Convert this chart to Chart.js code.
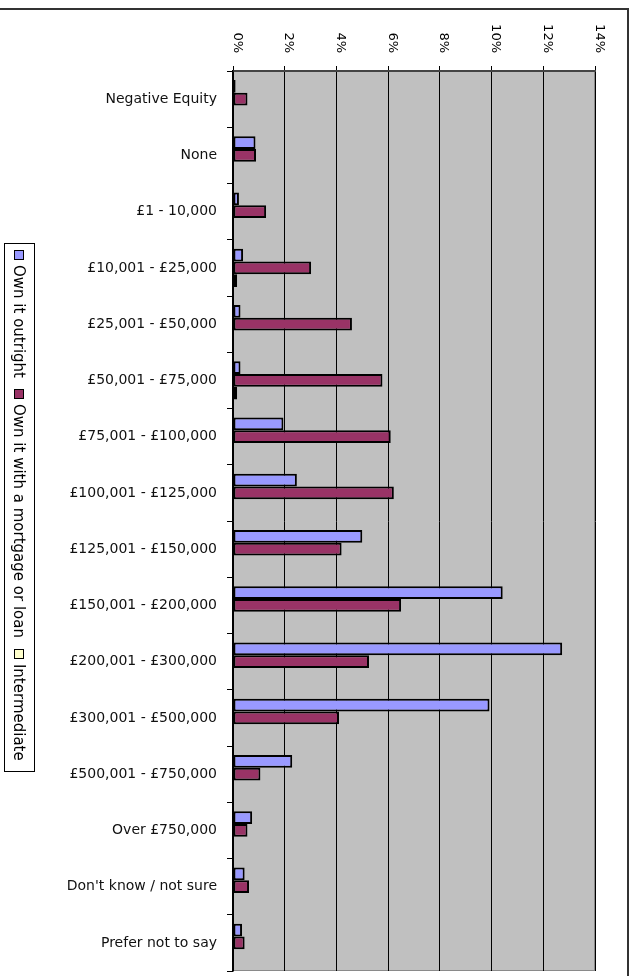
<!DOCTYPE html>
<html lang="en">
<head>
    <meta charset="UTF-8">
    <title>Property Value by Tenure</title>
    <script src="https://cdn.jsdelivr.net/npm/chart.js"></script>
    <style>
        body { margin: 0; background: #fff; }
        #wrap { position: relative; width: 638px; height: 976px; overflow: hidden; }
        #frame { position: absolute; left: -2px; top: 8px; width: 629px; height: 980px;
                 border-top: 2px solid #333; border-right: 2px solid #333; }
        #valueChart { position: absolute; left: 0; top: 0; }
        #legend { position: absolute; left: 35px; top: 243px; width: 527px; height: 29px;
                  border: 1px solid #000; background: #fff; transform-origin: 0 0; transform: rotate(90deg);
                  font-family: "DejaVu Sans", sans-serif; font-size: 15px; color: #000;
                  display: flex; align-items: center; box-sizing: content-box; }
        #legend .item { display: flex; align-items: center; margin-left: 6px; margin-right: 5px; white-space: nowrap; }
        #legend .box { width: 8px; height: 8px; border: 1px solid #000; margin-right: 5px; }
    </style>
</head>
<body>
<div id="wrap">
    <div id="frame"></div>
    <canvas id="valueChart" width="638" height="976"></canvas>
    <div id="legend"></div>
</div>
<script>
    var categories = ['Negative Equity', 'None', '£1 - 10,000', '£10,001 - £25,000', '£25,001 - £50,000',
        '£50,001 - £75,000', '£75,001 - £100,000', '£100,001 - £125,000', '£125,001 - £150,000',
        '£150,001 - £200,000', '£200,001 - £300,000', '£300,001 - £500,000', '£500,001 - £750,000',
        'Over £750,000', "Don't know / not sure", 'Prefer not to say'];
    var ownOutright  = [0.10, 0.87, 0.23, 0.39, 0.29, 0.29, 1.95, 2.47, 5.00, 10.43, 12.73, 9.92, 2.29, 0.74, 0.45, 0.35];
    var ownMortgage  = [0.56, 0.89, 1.28, 3.02, 4.60, 5.78, 6.10, 6.22, 4.20, 6.50, 5.26, 4.10, 1.06, 0.56, 0.62, 0.45];
    var intermediate = [0, 0, 0.04, 0.16, 0, 0.16, 0, 0.04, 0, 0.04, 0, 0, 0, 0, 0.04, 0];
    var seriesNames  = ['Own it outright', 'Own it with a mortgage or loan', 'Intermediate'];
    var seriesColors = ['#9999FF', '#993366', '#FFFFCC'];
    var tickValues   = [0, 2, 4, 6, 8, 10, 12, 14];

    var FONT = '"DejaVu Sans", sans-serif';
    var PLOT = { left: 233, top: 71, right: 595, bottom: 971 };

    // grey plot background
    var plotBackground = {
        id: 'plotBackground',
        beforeDraw: function(chart) {
            var a = chart.chartArea, ctx = chart.ctx;
            ctx.save();
            ctx.fillStyle = '#C0C0C0';
            ctx.fillRect(a.left, a.top, a.right - a.left, a.bottom - a.top);
            ctx.strokeStyle = '#8a8a8a';
            ctx.lineWidth = 1;
            ctx.strokeRect(a.left + 0.5, a.top + 0.5, a.right - a.left - 1, a.bottom - a.top - 1);
            ctx.restore();
        }
    };

    // value labels on the top axis, turned to read downwards
    var rotatedTicks = {
        id: 'rotatedTicks',
        afterDraw: function(chart) {
            var scale = chart.scales.x, ctx = chart.ctx;
            ctx.save();
            ctx.font = '13px ' + FONT;
            ctx.fillStyle = '#000';
            ctx.textAlign = 'right';
            ctx.textBaseline = 'middle';
            scale.ticks.forEach(function(t) {
                ctx.save();
                ctx.translate(scale.getPixelForValue(t.value) + 4, 53);
                ctx.rotate(Math.PI / 2);
                ctx.fillText(t.value + '%', 0, 0);
                ctx.restore();
            });
            ctx.restore();
        }
    };

    var datasets = [ownOutright, ownMortgage, intermediate].map(function(values, i) {
        return {
            label: seriesNames[i],
            data: values,
            backgroundColor: seriesColors[i],
            borderColor: '#000',
            borderWidth: 2,
            borderSkipped: false,
            categoryPercentage: 0.68,
            barPercentage: 1.0
        };
    });

    var ctx = document.getElementById('valueChart').getContext('2d');
    var valueChart = new Chart(ctx, {
        type: 'bar',
        data: { labels: categories, datasets: datasets },
        options: {
            indexAxis: 'y',
            responsive: false,
            animation: false,
            devicePixelRatio: 1,
            layout: { padding: { left: 0, right: 638 - PLOT.right, top: 0, bottom: 976 - PLOT.bottom } },
            plugins: { legend: { display: false }, tooltip: { enabled: false } },
            scales: {
                x: {
                    position: 'top',
                    min: 0,
                    max: 14,
                    afterBuildTicks: function(scale) {
                        scale.ticks = tickValues.map(function(v) { return { value: v }; });
                    },
                    afterFit: function(scale) { scale.height = PLOT.top; },
                    ticks: { display: false },
                    grid: { color: '#000', lineWidth: 1, tickLength: 5 },
                    border: { color: '#444', width: 2 }
                },
                y: {
                    afterFit: function(scale) {
                        scale.width = PLOT.left;
                        scale.paddingTop = 0;
                        scale.paddingBottom = 0;
                    },
                    ticks: { color: '#111', padding: 10, font: { family: FONT, size: 14 } },
                    grid: { drawOnChartArea: false, color: '#000', tickLength: 6, offset: true },
                    border: { color: '#000', width: 1.5 }
                }
            }
        },
        plugins: [plotBackground, rotatedTicks]
    });

    // legend box
    var legend = document.getElementById('legend');
    valueChart.data.datasets.forEach(function(ds) {
        var item = document.createElement('div');
        item.className = 'item';
        var box = document.createElement('span');
        box.className = 'box';
        box.style.background = ds.backgroundColor;
        item.appendChild(box);
        item.appendChild(document.createTextNode(ds.label));
        legend.appendChild(item);
    });
</script>
</body>
</html>
